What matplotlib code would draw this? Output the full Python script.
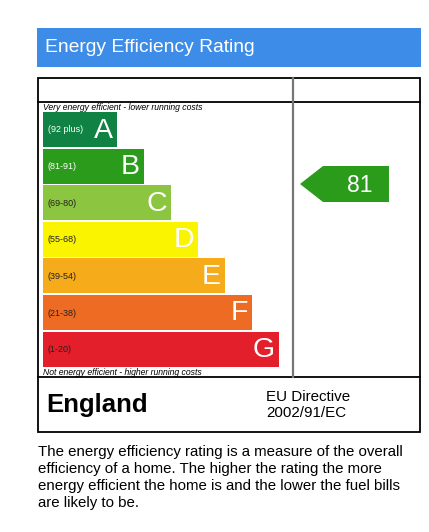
import matplotlib.pyplot as plt
from matplotlib.patches import Rectangle, Polygon

bands = ['A', 'B', 'C', 'D', 'E', 'F', 'G']
ranges = ['(92 plus)', '(81-91)', '(69-80)', '(55-68)', '(39-54)', '(21-38)', '(1-20)']
band_colors = ['#108243', '#2b9b1b', '#8cc540', '#fbf400', '#f6ab1a', '#ee6b24', '#e21f2a']
lower_bounds = [92, 81, 69, 55, 39, 21, 1]
current_rating = 81

title = 'Energy Efficiency Rating'
top_note = 'Very energy efficient - lower running costs'
bottom_note = 'Not energy efficient - higher running costs'
country = 'England'
directive = 'EU Directive\n2002/91/EC'
caption = ('The energy efficiency rating is a measure of the overall\n'
           'efficiency of a home. The higher the rating the more\n'
           'energy efficient the home is and the lower the fuel bills\n'
           'are likely to be.')

plt.rcParams['font.family'] = ['Liberation Sans', 'DejaVu Sans']

W, H = 429, 532
fig = plt.figure(figsize=(W / 100, H / 100), dpi=100)
ax = fig.add_axes([0, 0, 1, 1])
ax.set_xlim(0, W)
ax.set_ylim(H, 0)
ax.axis('off')

# header
ax.add_patch(Rectangle((37, 28), 384, 39, facecolor='#3d8de8', edgecolor='none'))
ax.text(45, 47, title, color='white', fontsize=13.9, va='center', ha='left')

# frame
box_l, box_r, box_t, box_b = 38, 420, 78, 432
ax.add_patch(Rectangle((box_l, box_t), box_r - box_l, box_b - box_t,
                       facecolor='none', edgecolor='black', lw=1.3))
ax.plot([box_l, box_r], [102, 102], color='black', lw=1.3)
ax.plot([box_l, box_r], [377, 377], color='black', lw=1.3)
ax.plot([293, 293], [box_t, 377], color='#777777', lw=1.6)

# bands
bar_left = 43
bar_h = 35
step = 36.6
first_center = 112 + bar_h / 2
centers = [first_center + i * step for i in range(len(bands))]
widths = [74 + 27 * i for i in range(len(bands))]
ax.barh(centers, widths, left=bar_left, height=bar_h, color=band_colors)

for i, (b, r) in enumerate(zip(bands, ranges)):
    txt_col = 'white' if i < 2 else '#222222'
    ax.text(bar_left + 5, centers[i] + 0.5, r, fontsize=6.5, color=txt_col,
            va='center', ha='left')
    ax.text(bar_left + widths[i] - 4, centers[i] + 1, b, fontsize=20.5,
            color='white', va='center', ha='right')

ax.text(43, 107, top_note, fontsize=6.2, style='italic', va='center', ha='left')
ax.text(43, 372.5, bottom_note, fontsize=6.2, style='italic', va='center', ha='left')

# current rating arrow
idx = next(i for i, lb in enumerate(lower_bounds) if current_rating >= lb)
ay, ah = 184, 36
arrow = Polygon([(300, ay), (323, ay - ah / 2), (389, ay - ah / 2),
                 (389, ay + ah / 2), (323, ay + ah / 2)],
                closed=True, facecolor=band_colors[idx], edgecolor='none')
ax.add_patch(arrow)
ax.text(360, ay + 1, str(current_rating), fontsize=16.5, color='white',
        va='center', ha='center')

# footer of box
ax.text(46, 405, country, fontsize=18.5, fontweight='bold', va='center', ha='left')
ax.text(266, 405, directive, fontsize=10.9, va='center', ha='left', linespacing=1.2)

# caption
ax.text(38, 445, caption, fontsize=10.8, va='top', ha='left', linespacing=1.27)

fig.savefig('out.png', dpi=100, facecolor='white')
